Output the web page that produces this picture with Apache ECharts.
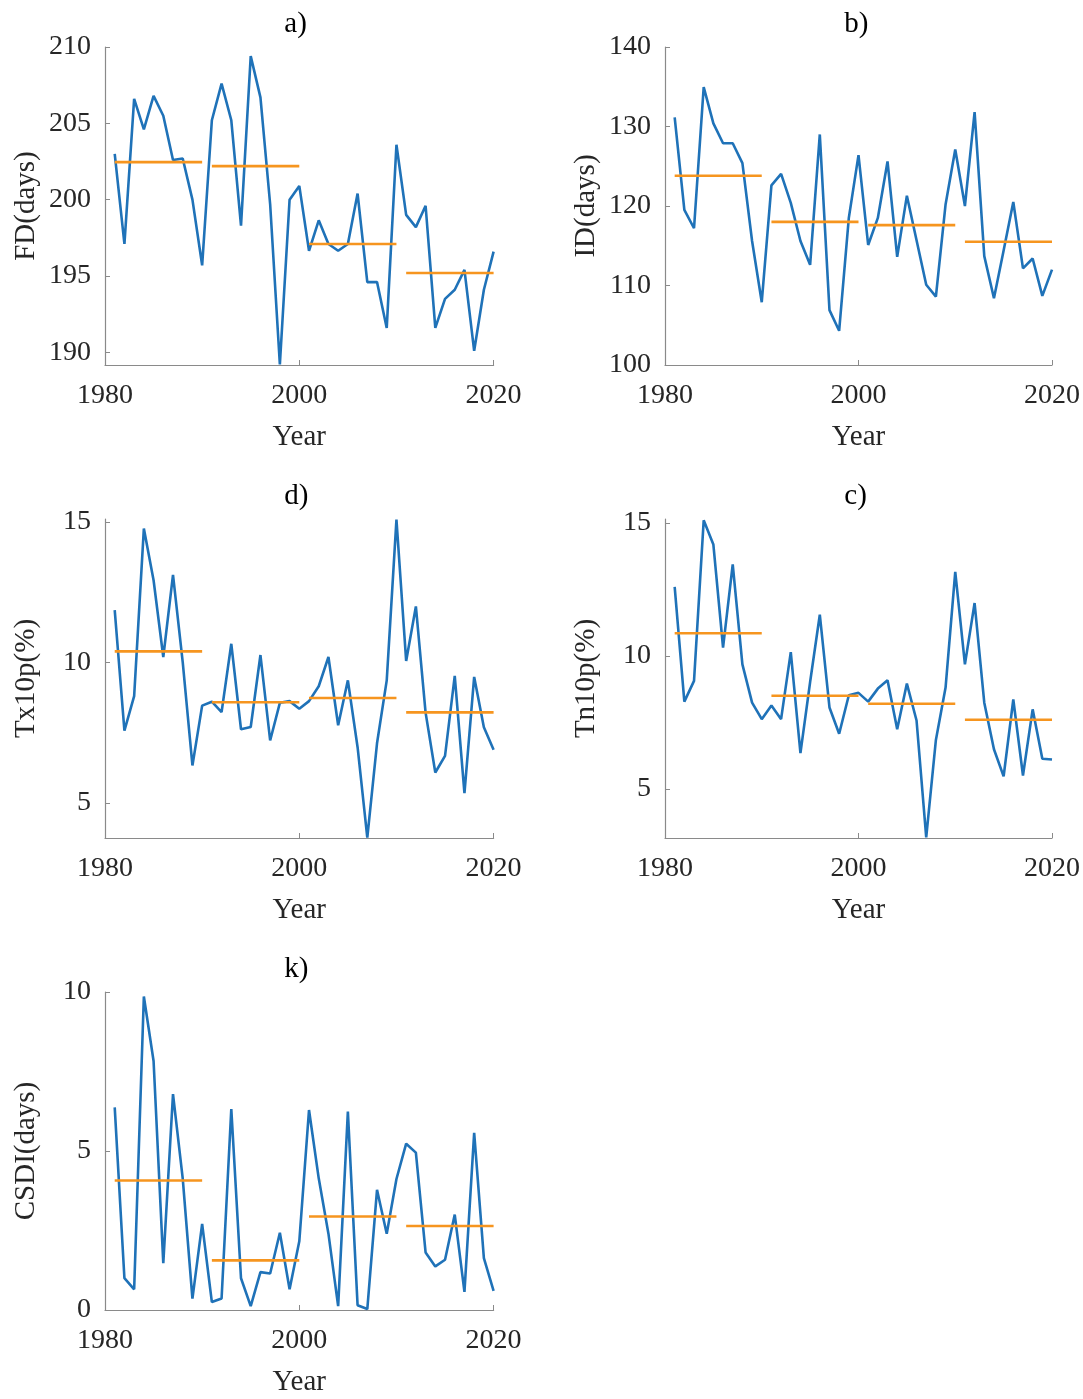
<!DOCTYPE html>
<html>
<head>
<meta charset="utf-8">
<script src="https://cdn.jsdelivr.net/npm/echarts@6/dist/echarts.min.js"></script>
<style>
html,body{margin:0;padding:0;background:#fff;}
#chart{width:1083px;height:1399px;}
</style>
</head>
<body>
<div id="chart"></div>
<script>
const years = [1981,1982,1983,1984,1985,1986,1987,1988,1989,1990,
               1991,1992,1993,1994,1995,1996,1997,1998,1999,2000,
               2001,2002,2003,2004,2005,2006,2007,2008,2009,2010,
               2011,2012,2013,2014,2015,2016,2017,2018,2019,2020];

const fd = [203.0,197.1,206.6,204.6,206.8,205.5,202.6,202.7,200.0,195.7,
            205.2,207.6,205.2,198.3,209.4,206.7,199.7,189.2,200.0,200.9,
            196.65,198.65,197.1,196.65,197.1,200.4,194.6,194.6,191.6,203.6,
            199.0,198.2,199.6,191.6,193.5,194.1,195.4,190.1,194.1,196.6];
const idd = [131.15,119.5,117.2,134.95,130.4,127.9,127.9,125.4,115.6,107.9,
             122.6,124.05,120.4,115.6,112.6,129.0,106.9,104.3,118.5,126.4,
             115.1,118.5,125.6,113.6,121.3,115.7,110.1,108.6,120.2,127.1,
             120.0,131.8,113.7,108.4,114.4,120.5,112.15,113.4,108.7,112.0];
const tx10p = [11.86,7.57,8.80,14.76,12.92,10.19,13.11,10.01,6.33,8.46,
               8.60,8.23,10.66,7.62,7.70,10.26,7.22,8.56,8.62,8.35,
               8.62,9.15,10.19,7.76,9.36,6.98,3.76,7.12,9.36,15.08,
               10.05,11.99,8.21,6.08,6.67,9.52,5.35,9.48,7.69,6.89];
const tn10p = [12.60,8.28,9.06,15.10,14.19,10.31,13.44,9.68,8.24,7.62,
               8.13,7.62,10.14,6.34,9.02,11.55,8.06,7.07,8.52,8.61,
               8.28,8.77,9.08,7.24,8.96,7.57,3.17,6.84,8.81,13.16,
               9.68,11.99,8.24,6.49,5.47,8.36,5.50,7.99,6.13,6.10];
const csdi = [6.37,1.0,0.65,9.86,7.83,1.47,6.79,4.14,0.36,2.71,
              0.25,0.36,6.32,1.0,0.12,1.19,1.15,2.43,0.65,2.16,
              6.29,4.14,2.40,0.12,6.24,0.15,0.03,3.78,2.40,4.12,
              5.23,4.95,1.81,1.37,1.58,3.0,0.57,5.57,1.63,0.60];

const decadeStart = [1981,1991,2001,2011];
const decadeEnd = [1990,2000,2010,2020];
const fdMean = [202.46,202.2,197.1,195.2];
const idMean = [123.8,118.0,117.6,115.5];
const tx10pMean = [10.39,8.58,8.73,8.22];
const tn10pMean = [10.85,8.50,8.20,7.60];
const csdiMean = [4.07,1.56,2.94,2.64];

const xTicks = [1980,2000,2020];
const fdTicks = [190,195,200,205,210];
const idTicks = [100,110,120,130,140];
const tx10pTicks = [5,10,15];
const tn10pTicks = [5,10,15];
const csdiTicks = [0,5,10];

const panels = [
  {title:'a)', yName:'FD(days)', data:fd, mean:fdMean, ticks:fdTicks, ymin:189.17, ymax:210, left:105, top:47, height:318},
  {title:'b)', yName:'ID(days)', data:idd, mean:idMean, ticks:idTicks, ymin:100, ymax:140, left:665, top:47, height:318},
  {title:'d)', yName:'Tx10p(%)', data:tx10p, mean:tx10pMean, ticks:tx10pTicks, ymin:3.75, ymax:15.1, left:105, top:519, height:319},
  {title:'c)', yName:'Tn10p(%)', data:tn10p, mean:tn10pMean, ticks:tn10pTicks, ymin:3.15, ymax:15.15, left:665, top:519, height:319},
  {title:'k)', yName:'CSDI(days)', data:csdi, mean:csdiMean, ticks:csdiTicks, ymin:0, ymax:10, left:105, top:992, height:318}
];

const FONT = '"Liberation Serif", "Times New Roman", serif';
const W = 388.6;
const axisColor = '#8a8a8a';
const labelColor = '#262626';

const option = {
  backgroundColor:'#fff',
  animation:false,
  title:[], grid:[], xAxis:[], yAxis:[], series:[]
};

panels.forEach((p,i)=>{
  option.title.push({
    text:p.title, left:p.left + W/2 - 20, top:p.top - 42,
    textStyle:{fontFamily:FONT, fontSize:29, fontWeight:'normal', color:'#000'}
  });
  option.grid.push({left:p.left, top:p.top, width:W, height:p.height, containLabel:false});
  option.xAxis.push({
    gridIndex:i, type:'value', min:1980, max:2020, interval:20,
    name:'Year', nameLocation:'middle', nameGap:58,
    nameTextStyle:{fontFamily:FONT, fontSize:29, color:labelColor, verticalAlign:'top'},
    axisLine:{show:true, lineStyle:{color:axisColor, width:1.2}},
    axisTick:{show:true, inside:true, length:5, lineStyle:{color:axisColor}},
    axisLabel:{fontFamily:FONT, fontSize:28, color:labelColor, margin:17, formatter:(v)=>String(v)},
    splitLine:{show:false}
  });
  option.yAxis.push({
    gridIndex:i, type:'value', min:p.ymin, max:p.ymax,
    name:p.yName, nameLocation:'middle', nameGap:64, nameRotate:90,
    nameTextStyle:{fontFamily:FONT, fontSize:29, color:labelColor},
    axisLine:{show:true, lineStyle:{color:axisColor, width:1.2}},
    axisTick:{show:true, inside:true, length:5, lineStyle:{color:axisColor}, customValues:p.ticks},
    axisLabel:{fontFamily:FONT, fontSize:28, color:labelColor, margin:14, customValues:p.ticks, formatter:(v)=>String(v)},
    splitLine:{show:false}
  });
  option.series.push({
    type:'line', xAxisIndex:i, yAxisIndex:i, showSymbol:false, symbol:'none',
    data: years.map((y,k)=>[y,p.data[k]]),
    lineStyle:{color:'#1f72b8', width:2.6}, z:2
  });
  const md = [];
  p.mean.forEach((m,k)=>{
    md.push([decadeStart[k], m]); md.push([decadeEnd[k], m]); md.push([decadeEnd[k]+0.5, '-']);
  });
  option.series.push({
    type:'line', xAxisIndex:i, yAxisIndex:i, showSymbol:false, symbol:'none', connectNulls:false,
    data: md, lineStyle:{color:'#f6951f', width:2.6}, z:3
  });
});

const chart = echarts.init(document.getElementById('chart'), null, {renderer:'canvas'});
chart.setOption(option);
</script>
</body>
</html>
